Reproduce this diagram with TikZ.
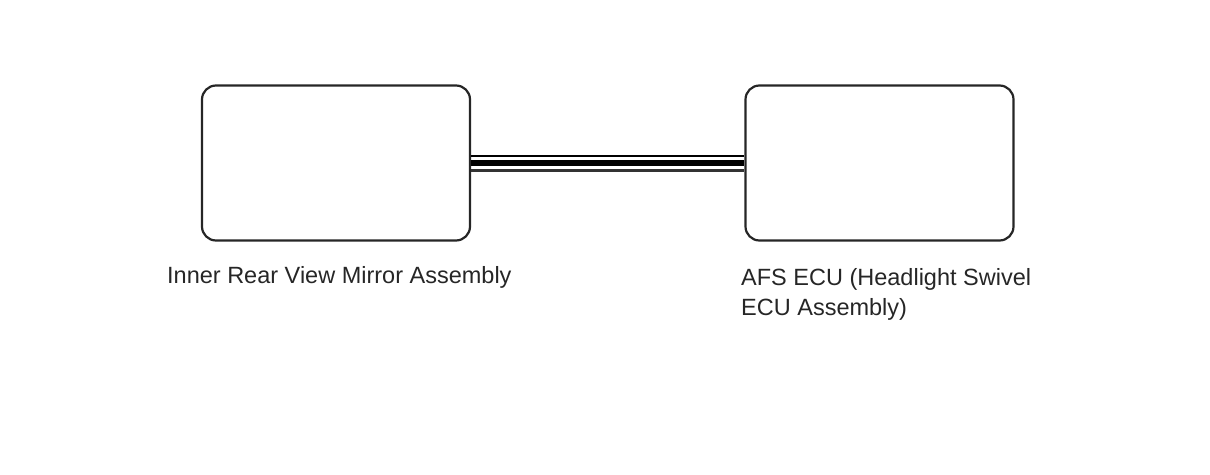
\documentclass[tikz,border=0pt]{standalone}
\usepackage{fontspec}
\setmainfont{Liberation Sans}
\usetikzlibrary{positioning}

\begin{document}
\begin{tikzpicture}[x=1pt,y=-1pt,
    unitbox/.style={draw=black!85,line width=2.2pt,rounded corners=14pt,
      minimum width=268pt,minimum height=155pt,inner sep=0pt},
    unitlabel/.style={inner sep=0pt,font=\fontsize{23.5}{30}\selectfont,align=left,text=black!85}]
  \useasboundingbox (0,0) rectangle (1210,474);
  \node[unitbox] (mirror) at (336,163) {};
  \node[unitbox] (afs) at (879.5,163) {};
  % wire harness between the two units
  \draw[line width=2.4pt,black!80] ([yshift=-7.5pt]mirror.east) -- ([yshift=-7.5pt]afs.west);
  \draw[line width=6pt] (mirror.east) -- (afs.west);
  \draw[line width=2.2pt] ([yshift=7pt]mirror.east) -- ([yshift=7pt]afs.west);
  \node[unitlabel,anchor=base west] (mirrorlabel) at (167,283) {Inner Rear View Mirror Assembly};
  \node[unitlabel,anchor=north west] (afslabel) at (741,268) {AFS ECU (Headlight Swivel\\ECU Assembly)};
\end{tikzpicture}
\end{document}
